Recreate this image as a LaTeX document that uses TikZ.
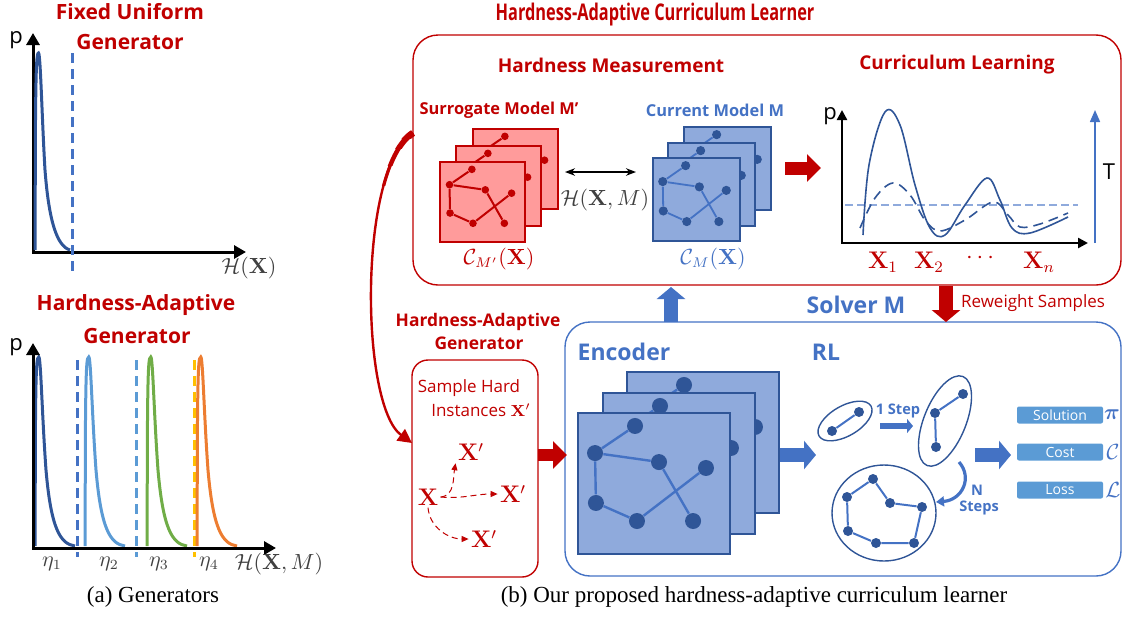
\documentclass[tikz,border=0pt]{standalone}
\usepackage{amsmath}
\usepackage[no-math]{fontspec}
\setmainfont{Open Sans}
\newfontfamily\capfont{Liberation Serif}
\usetikzlibrary{arrows.meta}

\definecolor{hred}{HTML}{C00000}
\definecolor{hpink}{HTML}{FF9B9B}
\definecolor{hblue}{HTML}{4472C4}
\definecolor{hdark}{HTML}{2F5597}
\definecolor{hlight}{HTML}{8FAADC}
\definecolor{hsky}{HTML}{5B9BD5}
\definecolor{hgreen}{HTML}{70AD47}
\definecolor{horange}{HTML}{ED7D31}
\definecolor{hyellow}{HTML}{FFC000}
\definecolor{hgray}{HTML}{404040}

\tikzset{
  redtitle/.style={text=hred, font={\bfseries\fontsize{10.5}{12}\selectfont}},
  redhead/.style={text=hred, font={\bfseries\fontsize{9.5}{11}\selectfont}},
  redlabel/.style={text=hred, font={\bfseries\fontsize{8.2}{10}\selectfont}},
  bluelabel/.style={text=hblue, font={\bfseries\fontsize{8.2}{10}\selectfont}},
  bluehead/.style={text=hblue, font={\bfseries\fontsize{11.5}{13}\selectfont}},
  redtext/.style={text=hred, font={\fontsize{8.5}{10}\selectfont}},
  stepfont/.style={text=hblue, font={\bfseries\fontsize{7.3}{8.5}\selectfont}},
  mathlabel/.style={text=hgray, font={\fontsize{10.5}{12}\selectfont}},
  plabel/.style={font={\fontsize{11}{13}\selectfont}},
  axis/.style={line width=1.5pt, {Triangle[length=6pt,width=6.5pt]}-{Triangle[length=6pt,width=6.5pt]}},
  axissmall/.style={line width=1.2pt, {Triangle[length=5pt,width=5pt]}-{Triangle[length=5pt,width=5pt]}},
  curve/.style={line width=1.5pt},
  dline/.style={line width=1.5pt, dash pattern=on 5pt off 3pt},
  redbox/.style={draw=hred, line width=0.7pt, rounded corners=12.5pt},
  bluebox/.style={draw=hblue, line width=0.7pt, rounded corners=12.5pt},
  redblock/.style={hred, line width=6.5pt, -{Triangle[length=7pt,width=13.5pt]}},
  blueblock/.style={hblue, line width=7pt, -{Triangle[length=6pt,width=14pt]}},
  smallblock/.style={hblue, line width=3pt, -{Triangle[length=3pt,width=7pt]}},
  dasharrow/.style={hred, densely dashed, line width=0.5pt, -{Triangle[length=3.5pt,width=3pt]}},
  redsheet/.style={fill=hpink, draw=hred, line width=0.6pt},
  reddot/.style={circle, fill=hred, inner sep=0pt, minimum size=3.8pt},
  rededge/.style={draw=hred, line width=1pt},
  bluesheet/.style={fill=hlight, draw=hdark, line width=0.6pt},
  bluedot/.style={circle, fill=hdark, inner sep=0pt, minimum size=4.6pt},
  blueedge/.style={draw=hblue, line width=0.9pt},
  encsheet/.style={fill=hlight, draw=hdark, line width=0.7pt},
  encdot/.style={circle, fill=hdark, inner sep=0pt, minimum size=8pt},
  encedge/.style={draw=hblue, line width=1.2pt},
  ring/.style={draw=hdark, line width=0.7pt},
  rldot/.style={circle, fill=hdark, inner sep=0pt, minimum size=5pt},
  rledge/.style={draw=hblue, line width=1pt},
  outbox/.style={fill=hsky, text=white, rounded corners=1pt, inner sep=0pt,
    minimum width=43pt, minimum height=8.5pt, font={\fontsize{7}{8}\selectfont}},
  outsym/.style={text=hblue, font={\fontsize{11}{13}\selectfont}},
  bigx/.style={text=hred, font={\fontsize{11.5}{13}\selectfont}},
}

% one sheet of a graph stack: name, x, y, width, height, look
\newcommand{\graphsheet}[6]{%
  \begin{scope}[shift={(#2,#3)},xscale=#4,yscale=#5]
    \filldraw[#6sheet] (0,0) rectangle (1,1);
    \node[#6dot] (#1a) at (0.375,0.092) {};
    \node[#6dot] (#1b) at (0.112,0.284) {};
    \node[#6dot] (#1c) at (0.533,0.348) {};
    \node[#6dot] (#1d) at (0.842,0.390) {};
    \node[#6dot] (#1e) at (0.118,0.638) {};
    \node[#6dot] (#1f) at (0.388,0.766) {};
    \node[#6dot] (#1g) at (0.757,0.766) {};
    \draw[#6edge] (#1b) -- (#1a) (#1b) -- (#1c) (#1b) -- (#1e)
      (#1e) -- (#1f) (#1f) -- (#1d) (#1c) -- (#1g);
  \end{scope}}

\begin{document}
\begin{tikzpicture}[x=0.5pt,y=-0.5pt]
\useasboundingbox (0,0) rectangle (1123,616);

% (a) fixed uniform generator
\node[redtitle] (fixtitle) at (130,12) {Fixed Uniform};
\node[redtitle] (fixgen) at (130,42) {Generator};
\draw[axis] (33,33) |- (246,252);
\node[plabel] (ptop) at (16,40) {p};
\node[mathlabel] (htop) at (249,268) {$\mathcal{H}(\mathbf{X})$};
\draw[curve, hdark] (35,250) -- (35.5,120) .. controls (36,60) and (37,53) .. (38.5,53)
  .. controls (40.5,53) and (42,120) .. (45,170) .. controls (49,222) and (57,246) .. (70,250);
\draw[dline, hblue] (72,53) -- (72,272);

% (a) hardness-adaptive generator
\node[redtitle] (hagtitle) at (136,305) {Hardness-Adaptive};
\node[redtitle] (haggen) at (137,336) {Generator};
\draw[dline, hblue] (77,360) -- (77,557);
\draw[dline, hsky] (136,360) -- (136,557);
\draw[dline, hyellow] (194,360) -- (194,557);
\foreach \x/\c in {35/hdark,85/hsky,147/hgreen,197/horange}
  \draw[curve, \c] (\x,546) -- (\x+0.5,420) .. controls (\x+1,362) and (\x+2,357) .. (\x+3.8,357)
    .. controls (\x+5.8,357) and (\x+7,415) .. (\x+11,470) .. controls (\x+16,528) and (\x+25,544) .. (\x+40,546);
\draw[axis] (33,343) |- (276,548);
\node[plabel] (pbot) at (16,347) {p};
\node[mathlabel] (eta1) at (52,564) {$\eta_1$};
\node[mathlabel] (eta2) at (109,564) {$\eta_2$};
\node[mathlabel] (eta3) at (159,564) {$\eta_3$};
\node[mathlabel] (eta4) at (209,564) {$\eta_4$};
\node[mathlabel] (hbot) at (279,564) {$\mathcal{H}(\mathbf{X},M)$};
\node[font={\capfont\fontsize{11.5}{13}\selectfont}] (capa) at (153,597) {(a) Generators};

% (b) boxes
\node[redtitle, font={\bfseries\fontsize{11.5}{13}\selectfont}] (learner) at (655,15)
  {\scalebox{0.71}[1]{Hardness-Adaptive Curriculum Learner}};
\draw[redbox] (413,35) rectangle (1121,285);
\draw[bluebox] (565,322) rectangle (1121,576);
\draw[redbox, rounded corners=8pt] (412,360) rectangle (538,577);

% curved arrow from learner to generator
\coordinate (loopfrom) at (413,133);
\coordinate (loopto) at (412,443);
\draw[hred, line width=1.2pt, -{Triangle[length=7pt,width=7pt]}]
  (loopfrom) .. controls (358,168) and (360,405) .. (loopto);
\foreach \yc/\w in {185/1.6pt,165/2.2pt,148/2.8pt,138/3.4pt}
{
  \begin{scope}
    \clip (330,100) rectangle (420,\yc);
    \draw[hred, line width=\w] (loopfrom) .. controls (358,168) and (360,405) .. (loopto);
  \end{scope}
}

% hardness measurement
\node[redhead] (hmtitle) at (611,65) {Hardness Measurement};
\node[redlabel] (surr) at (499,110) {Surrogate Model M’};
\node[bluelabel] (curr) at (715,110) {Current Model M};
\graphsheet{rb}{473}{129}{85}{80}{red}
\graphsheet{rm}{456}{146}{85}{80}{red}
\graphsheet{rf}{440}{162}{85}{80}{red}
\graphsheet{bb}{684}{127}{87}{83}{blue}
\graphsheet{bm}{668}{143}{87}{83}{blue}
\graphsheet{bf}{653}{158}{87}{83}{blue}
\coordinate (hl) at (565,172);
\coordinate (hr) at (636,172);
\draw[line width=0.8pt, {Stealth[length=5pt]}-{Stealth[length=5pt]}] (hl) -- (hr);
\node[mathlabel] (hxm) at (605,200) {$\mathcal{H}(\mathbf{X},M)$};
\node[mathlabel, text=hred] (cmp) at (499,259) {$\mathcal{C}_{M'}(\mathbf{X})$};
\node[mathlabel, text=hblue] (cm) at (713,259) {$\mathcal{C}_{M}(\mathbf{X})$};
\coordinate (ra1) at (785,168);
\coordinate (ra2) at (821,168);
\draw[redblock] (ra1) -- (ra2);

% curriculum learning
\node[redhead] (cltitle) at (957,65) {Curriculum Learning};
\draw[hlight, line width=0.7pt, dash pattern=on 4pt off 2pt] (845,205) -- (1078,205);
\draw[hdark, line width=0.8pt] plot[smooth, tension=0.6] coordinates {(863,235) (869,165) (885,112)
  (900,125) (915,185) (930,228) (945,235) (965,205) (987,178) (1000,200) (1012,228) (1030,233) (1068,217)};
\draw[hdark, line width=0.8pt, dash pattern=on 5pt off 3pt] plot[smooth, tension=0.6] coordinates {(860,228)
  (875,198) (893,183) (910,195) (925,220) (940,231) (965,220) (993,202) (1008,215) (1020,227) (1040,224) (1068,213)};
\draw[axissmall] (842,110) |- (1088,243);
\node[plabel] (pcl) at (830,116) {p};
\coordinate (tlow) at (1095,243);
\coordinate (thigh) at (1095,110);
\draw[hblue, line width=0.8pt, -{Triangle[length=6pt,width=5pt]}] (tlow) -- (thigh);
\node[plabel] (tlabel) at (1109,172) {T};
\node[bigx] (x1) at (883,262) {$\mathbf{X}_1$};
\node[bigx] (x2) at (929,262) {$\mathbf{X}_2$};
\node[bigx] (xdots) at (982,258) {$\cdots$};
\node[bigx] (xn) at (1039,262) {$\mathbf{X}_n$};

% hardness-adaptive generator
\node[redlabel, font={\bfseries\fontsize{8.7}{10}\selectfont}] (gentitle) at (478,322) {Hardness-Adaptive};
\node[redlabel, font={\bfseries\fontsize{8.7}{10}\selectfont}] (gentitle2) at (479,343) {Generator};
\node[redtext] (sample) at (469,388) {Sample Hard};
\node[redtext] (inst) at (481,410) {Instances $\mathbf{X}'$};
\node[bigx, inner sep=1pt] (x0) at (428,497) {$\mathbf{X}$};
\node[bigx, inner sep=1pt] (xa) at (471,452) {$\mathbf{X}'$};
\node[bigx, inner sep=1pt] (xb) at (513,494) {$\mathbf{X}'$};
\node[bigx, inner sep=1pt] (xc) at (484,539) {$\mathbf{X}'$};
\draw[dasharrow] (x0.east) to[out=5, in=-100] (xa.south west);
\draw[dasharrow] (x0.east) to[out=-5, in=180] (xb.west);
\draw[dasharrow] (x0.south) to[out=-85, in=180] (xc.west);
\coordinate (ga1) at (538,455);
\coordinate (ga2) at (567,455);
\draw[redblock, line width=6pt] (ga1) -- (ga2);

% solver
\coordinate (up1) at (671,322);
\coordinate (up2) at (671,287);
\draw[blueblock] (up1) -- (up2);
\coordinate (dn1) at (946,286);
\coordinate (dn2) at (946,322);
\draw[redblock, line width=7pt, -{Triangle[length=6pt,width=14pt]}] (dn1) -- (dn2);
\node[bluehead] (solver) at (856,305) {Solver M};
\node[redtext] (reweight) at (1033,303) {Reweight Samples};
\node[bluehead] (enc) at (624,352) {Encoder};
\node[bluehead] (rl) at (826,352) {RL};
\graphsheet{eb}{627}{372}{152}{141}{enc}
\graphsheet{em}{603}{393}{152}{141}{enc}
\graphsheet{ef}{578}{413}{152}{141}{enc}
\coordinate (ea1) at (780,455);
\coordinate (ea2) at (816,455);
\draw[blueblock] (ea1) -- (ea2);

% RL steps
\draw[ring, rotate around={30:(845,421)}] (845,421) ellipse [x radius=30, y radius=15];
\node[rldot] (s1a) at (859,412) {};
\node[rldot] (s1b) at (832,431) {};
\draw[rledge] (s1a) -- (s1b);
\node[stepfont] (onestep) at (898,411) {1 Step};
\coordinate (st1) at (880,426);
\coordinate (st2) at (913,426);
\draw[smallblock] (st1) -- (st2);
\draw[ring, rotate around={68:(945,421)}] (945,421) ellipse [x radius=48, y radius=21];
\node[rldot] (s2a) at (963,394) {};
\node[rldot] (s2b) at (935,413) {};
\node[rldot] (s2c) at (936,447) {};
\draw[rledge] (s2a) -- (s2b) -- (s2c);
\draw[ring] (884,513) ellipse [x radius=52, y radius=48];
\node[rldot] (s3a) at (873,479) {};
\node[rldot] (s3b) at (847,497) {};
\node[rldot] (s3c) at (890,503) {};
\node[rldot] (s3d) at (922,507) {};
\node[rldot] (s3e) at (848,531) {};
\node[rldot] (s3f) at (876,543) {};
\node[rldot] (s3g) at (914,543) {};
\draw[rledge] (s3a) -- (s3b) -- (s3e) -- (s3f) -- (s3g) -- (s3d) -- (s3c) -- (s3a);
\coordinate (ns1) at (959,462);
\coordinate (ns2) at (936,502);
\draw[hblue, line width=1.6pt, -{Triangle[length=4pt,width=5pt]}] (ns1) .. controls (973,478) and (962,500) .. (ns2);
\node[stepfont] (nlabel) at (977,490) {N};
\node[stepfont] (steps) at (979,508) {Steps};
\coordinate (oa1) at (975,455);
\coordinate (oa2) at (1011,455);
\draw[blueblock] (oa1) -- (oa2);
\node[outbox] (sol) at (1060,415) {Solution};
\node[outbox] (cost) at (1060,452) {Cost};
\node[outbox] (loss) at (1060,490) {Loss};
\node[outsym] (pisym) at (1112,415) {$\boldsymbol{\pi}$};
\node[outsym] (csym) at (1113,452) {$\mathcal{C}$};
\node[outsym] (lsym) at (1113,490) {$\mathcal{L}$};

\node[font={\capfont\fontsize{11.5}{13}\selectfont}] (capb) at (754,597) {(b) Our proposed hardness-adaptive curriculum learner};
\end{tikzpicture}
\end{document}
